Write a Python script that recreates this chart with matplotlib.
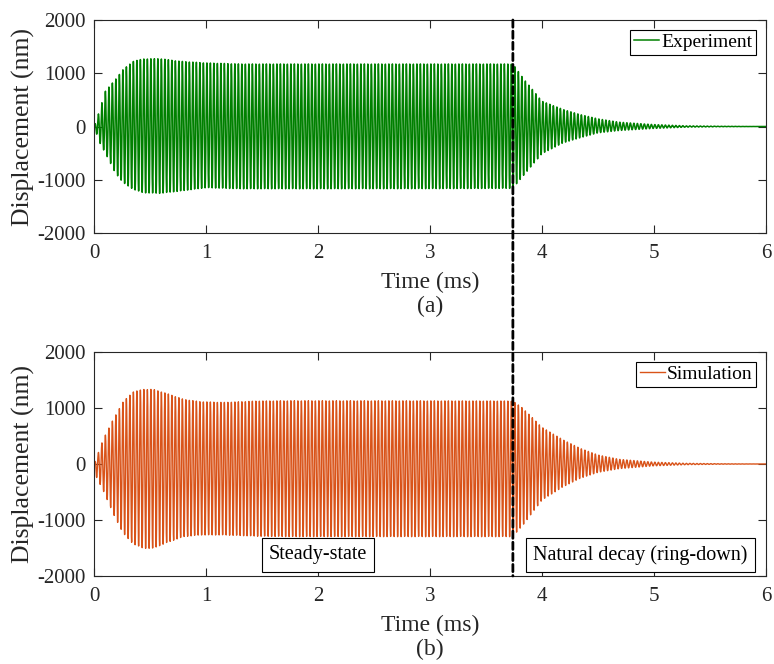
import numpy as np
import matplotlib
matplotlib.use("Agg")
import matplotlib.pyplot as plt
from matplotlib.patches import ConnectionPatch

plt.rcParams['font.family'] = ['Liberation Serif', 'DejaVu Serif']
plt.rcParams['axes.unicode_minus'] = False

# ---- data (envelopes, nm; time, ms) ----
exp_env_t = [0.0, 0.05, 0.10, 0.19, 0.26, 0.35, 0.44, 0.59, 0.77, 1.00, 1.30, 2.00, 3.00, 3.74,
             3.83, 4.00, 4.19, 4.34, 4.50, 4.69, 4.99, 5.29, 5.60, 6.00]
exp_upper = [0, 300, 660, 880, 1070, 1225, 1270, 1275, 1225, 1195, 1175, 1175, 1175, 1175,
             912, 475, 319, 225, 144, 81, 37, 12, 4, 0]
exp_lower = [0, -300, -495, -870, -1056, -1180, -1245, -1256, -1212, -1150, -1170, -1170, -1168, -1162,
             -931, -510, -306, -212, -119, -75, -37, -12, -4, 0]
exp_first_sample = 1000     # initial recorded value at t = 0

sim_env_t = [0.0, 0.02, 0.08, 0.17, 0.26, 0.35, 0.44, 0.53, 0.65, 0.80, 0.95, 1.16, 1.46, 1.76, 3.00, 3.74,
             3.83, 4.00, 4.19, 4.34, 4.50, 4.69, 4.99, 5.29, 5.60, 6.00]
sim_upper = [0, 100, 430, 790, 1110, 1290, 1333, 1333, 1260, 1155, 1113, 1100, 1125, 1130, 1128, 1125,
             995, 655, 429, 280, 161, 83, 34, 12, 4, 0]
sim_lower = [0, -226, -464, -880, -1238, -1428, -1506, -1506, -1405, -1298, -1268, -1268, -1290, -1298, -1298, -1298,
             -1089, -643, -405, -256, -149, -83, -34, -12, -4, 0]

carrier_khz = 32.0          # oscillation frequency read from the cycle spacing
exp_rate_khz = 1000.0
sim_rate_khz = 1000.0
switch_time = 3.74          # end of steady-state / start of ring-down (ms)

y_ticks = [-2000, -1000, 0, 1000, 2000]
x_ticks = [0, 1, 2, 3, 4, 5, 6]


def build(env_t, up, lo, rate):
    t = np.arange(0, 6.0 + 1e-9, 1.0 / rate)
    s = np.sin(2 * np.pi * carrier_khz * t)
    u = np.interp(t, env_t, up)
    l = np.interp(t, env_t, lo)
    y = np.where(s >= 0, u * s, -l * s)
    return t, y


t_exp, y_exp = build(exp_env_t, exp_upper, exp_lower, exp_rate_khz)
y_exp[0] = exp_first_sample
t_sim, y_sim = build(sim_env_t, sim_upper, sim_lower, sim_rate_khz)

fig = plt.figure(figsize=(7.74, 6.64), dpi=100)
ax1 = fig.add_axes([94 / 774, 1 - 233 / 664, 672 / 774, 213 / 664])
ax2 = fig.add_axes([94 / 774, 1 - 576 / 664, 672 / 774, 224 / 664])

ax1.plot(t_exp, y_exp, color='#008000', lw=1.1, label='Experiment')
ax2.plot(t_sim, y_sim, color='#D95319', lw=1.0, label='Simulation')

for ax, lab in ((ax1, 'Time (ms)\n(a)'), (ax2, 'Time (ms)\n(b)')):
    ax.set_xlim(0, 6)
    ax.set_ylim(-2000, 2000)
    ax.set_xticks(x_ticks)
    ax.set_yticks(y_ticks)
    ax.tick_params(direction='in', top=True, right=True, labelsize=15, length=6, width=0.8,
                   colors='#262626')
    ax.tick_params(axis='x', pad=8)
    ax.tick_params(axis='y', pad=6)
    for sp in ax.spines.values():
        sp.set_color('#262626')
        sp.set_linewidth(0.8)
    ax.set_xlabel(lab, fontsize=17, linespacing=1.2, labelpad=6, color='#262626')
    ax.set_ylabel('Displacement (nm)', fontsize=18.5, labelpad=2, color='#262626')
    leg = ax.legend(loc='upper right', fontsize=14, fancybox=False, framealpha=1,
                    edgecolor='black', handlelength=1.3, handletextpad=0.1,
                    borderpad=0.2, borderaxespad=0.5)
    leg.get_frame().set_linewidth(0.8)

box = dict(boxstyle='square,pad=0.35', fc='white', ec='black', lw=0.8)
ax2.text(2.0, -1625, 'Steady-state', ha='center', va='center', fontsize=14.5, bbox=box)
ax2.text(4.88, -1625, 'Natural decay (ring-down)', ha='center', va='center', fontsize=14.5, bbox=box)

con = ConnectionPatch(xyA=(switch_time, 2000), coordsA=ax1.transData,
                      xyB=(switch_time, -2000), coordsB=ax2.transData,
                      color='black', lw=2, linestyle=(0, (2.6, 1.4)), zorder=10)
fig.add_artist(con)

fig.savefig('out.png', dpi=100)
